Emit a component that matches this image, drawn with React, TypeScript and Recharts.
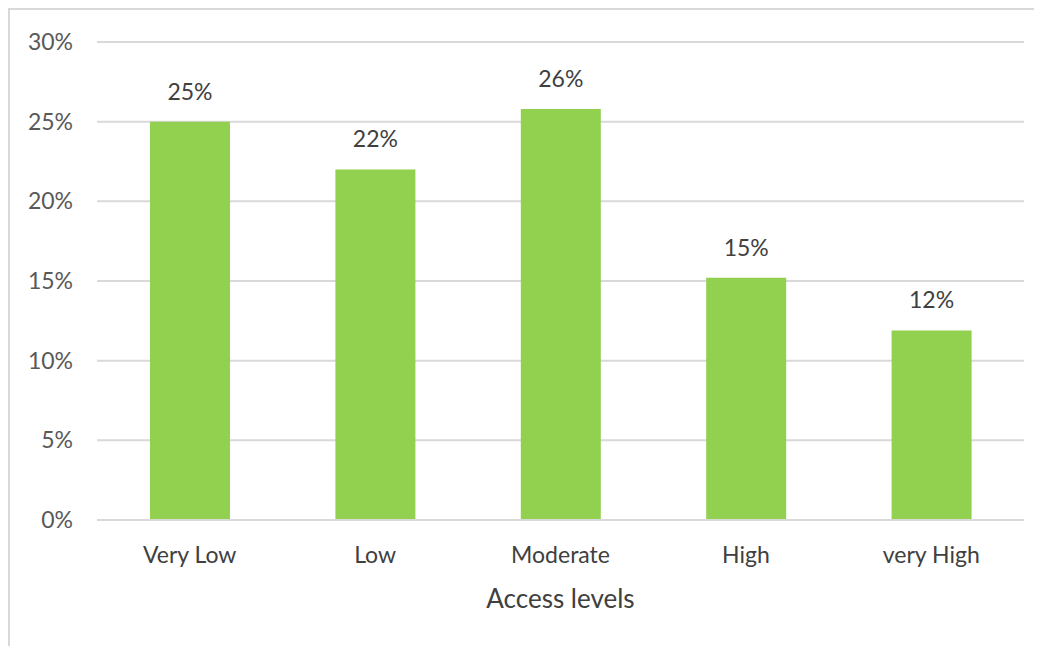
import React from 'react';
import { BarChart, Bar, XAxis, YAxis, CartesianGrid, LabelList } from 'recharts';

// Share of respondents at each access level (percent)
const categories = ['Very Low', 'Low', 'Moderate', 'High', 'very High'];
const shares = [25.0, 22.0, 25.8, 15.2, 11.9];
const yTicks = [0, 5, 10, 15, 20, 25, 30];

const data = categories.map((name, i) => ({ name, share: shares[i] }));

const FONT = 'Lato, "Open Sans", sans-serif';

const CategoryTick = (props: any) => {
  const { x, y, payload } = props;
  return (
    <text x={x} y={y} dy={35} textAnchor="middle" fill="#404040" fontSize={23} fontFamily={FONT}>
      {payload.value}
    </text>
  );
};

export default function App() {
  return (
    <div
      style={{
        width: 1034,
        height: 638,
        borderTop: '2px solid #d9d9d9',
        borderLeft: '2px solid #d9d9d9',
        background: '#fff',
      }}
    >
      <BarChart
        width={1032}
        height={636}
        data={data}
        margin={{ top: 32, right: 18, left: 0, bottom: 0 }}
        barSize={80}
      >
        <CartesianGrid vertical={false} stroke="#d9d9d9" strokeWidth={2} />
        <XAxis
          dataKey="name"
          height={126}
          axisLine={{ stroke: '#d9d9d9', strokeWidth: 2 }}
          tickLine={false}
          tick={<CategoryTick />}
          interval={0}
          label={{
            value: 'Access levels',
            position: 'insideBottom',
            offset: 38,
            fill: '#404040',
            fontSize: 26,
            fontFamily: FONT,
          }}
        />
        <YAxis
          width={87}
          domain={[0, 30]}
          ticks={yTicks}
          interval={0}
          axisLine={false}
          tickLine={false}
          tickSize={0}
          tickMargin={24}
          tickFormatter={(v: number) => `${v}%`}
          tick={{ fill: '#595959', fontSize: 23, fontFamily: FONT }}
        />
        <Bar dataKey="share" fill="#92d050" isAnimationActive={false}>
          <LabelList
            dataKey="share"
            position="top"
            offset={22}
            formatter={(v: any) => `${Math.round(Number(v))}%`}
            fill="#404040"
            fontSize={23}
            fontFamily={FONT}
          />
        </Bar>
      </BarChart>
    </div>
  );
}
